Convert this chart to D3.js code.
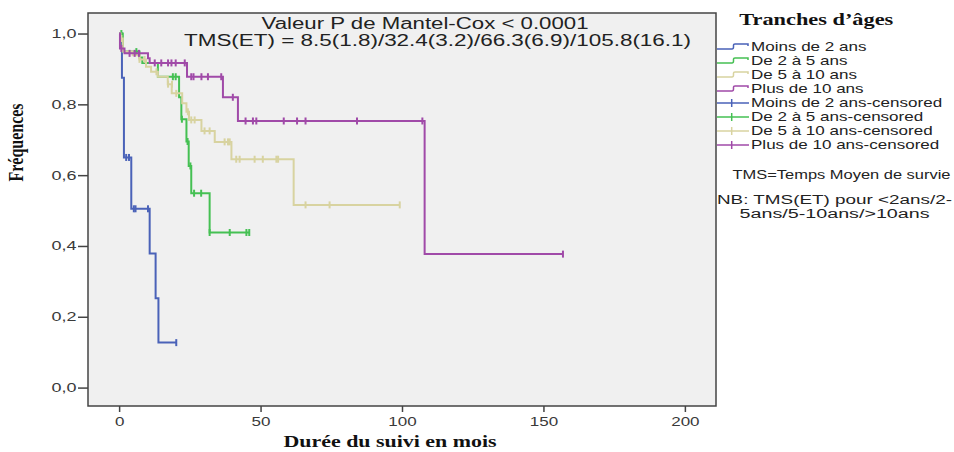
<!DOCTYPE html>
<html>
<head>
<meta charset="utf-8">
<script src="https://cdn.jsdelivr.net/npm/d3@7"></script>
<style>
  html, body { margin: 0; padding: 0; background: #ffffff; }
  svg { display: block; }
</style>
</head>
<body>
<svg id="chart" width="954" height="452"></svg>
<script>
// ---------- DATA ----------
const groupNames = ["Moins de 2 ans", "De 2 à 5 ans", "De 5 à 10 ans", "Plus de 10 ans"];
const groupColors = ["#4a62b8", "#45c053", "#d8d3a0", "#a04aa8"];
const xTickValues = [0, 50, 100, 150, 200];
const yTickValues = [0, 0.2, 0.4, 0.6, 0.8, 1.0];

// steps: [time, survival after that time]; end: last follow-up time
const lt2Steps = [[0,1],[1.0,0.875],[1.7,0.65],[4.3,0.505],[10.8,0.379],[12.9,0.252],[13.9,0.127]];
const lt2End = 20.2;
const lt2Censored = [[2.5,0.65],[3.5,0.65],[5.2,0.505],[5.8,0.505],[10.2,0.505],[20.2,0.127]];

const g2to5Steps = [[0,1],[1.3,0.949],[7.2,0.932],[8.2,0.917],[13.7,0.878],[21.2,0.82],[22.0,0.758],[23.8,0.695],[24.6,0.626],[25.5,0.549],[32.0,0.438]];
const g2to5End = 46.0;
const g2to5Censored = [[0.8,1.0],[6.1,0.949],[19.0,0.878],[20.0,0.878],[22.2,0.758],[24.2,0.695],[25.2,0.626],[26.5,0.549],[29.0,0.549],[32.0,0.438],[39.1,0.438],[45.0,0.438],[46.0,0.438]];

const g5to10Steps = [[0,1],[0.5,0.986],[1.3,0.949],[4.8,0.939],[7.2,0.927],[9.5,0.906],[11.3,0.892],[13.7,0.878],[17.2,0.857],[18.6,0.831],[22.3,0.803],[23.8,0.779],[24.7,0.756],[29.1,0.725],[33.8,0.694],[39.7,0.645],[61.7,0.516]];
const g5to10End = 99.2;
const g5to10Censored = [[0.8,0.986],[7.2,0.927],[9.0,0.927],[13.2,0.892],[17.3,0.857],[18.7,0.857],[20.2,0.831],[24.3,0.779],[25.5,0.756],[26.7,0.756],[30.2,0.725],[32.0,0.725],[37.3,0.694],[38.5,0.694],[39.1,0.694],[41.4,0.645],[42.6,0.645],[47.9,0.645],[50.8,0.645],[55.6,0.645],[56.2,0.645],[65.9,0.516],[74.4,0.516],[99.2,0.516]];

const gt10Steps = [[0,1],[0.3,0.958],[1.9,0.944],[10.2,0.93],[10.8,0.917],[24.0,0.878],[36.7,0.82],[42.0,0.753],[108.0,0.377]];
const gt10End = 156.9;
const gt10Censored = [[0.8,0.958],[3.7,0.944],[5.5,0.944],[7.0,0.944],[12.6,0.917],[14.9,0.917],[17.3,0.917],[18.5,0.917],[20.0,0.917],[23.2,0.917],[25.5,0.878],[26.3,0.878],[29.1,0.878],[31.4,0.878],[36.1,0.878],[40.2,0.82],[44.7,0.753],[47.3,0.753],[48.5,0.753],[58.2,0.753],[62.9,0.753],[65.9,0.753],[84.1,0.753],[107.2,0.753],[156.9,0.377]];

const legendLabels = ["Moins de 2 ans","De 2 à 5 ans","De 5 à 10 ans","Plus de 10 ans",
  "Moins de 2 ans-censored","De 2 à 5 ans-censored","De 5 à 10 ans-censored","Plus de 10 ans-censored"];

const series = [
  {steps: lt2Steps, end: lt2End, cens: lt2Censored},
  {steps: g2to5Steps, end: g2to5End, cens: g2to5Censored},
  {steps: g5to10Steps, end: g5to10End, cens: g5to10Censored},
  {steps: gt10Steps, end: gt10End, cens: gt10Censored}
];

// ---------- LAYOUT ----------
const svg = d3.select("#chart");
const plot = {left: 88, right: 716, top: 13, bottom: 406};

const x = d3.scaleLinear().domain([-11, 211]).range([plot.left, plot.right]);
const y = d3.scaleLinear().domain([-0.052, 1.058]).range([plot.bottom, plot.top]);

svg.append("rect").attr("x", 0).attr("y", 0).attr("width", 954).attr("height", 452).attr("fill", "#ffffff");
svg.append("rect")
  .attr("x", plot.left).attr("y", plot.top)
  .attr("width", plot.right - plot.left).attr("height", plot.bottom - plot.top)
  .attr("fill", "#f0f0f0");

// axes
const yAxis = d3.axisLeft(y).tickValues(yTickValues).tickSize(10).tickPadding(2)
  .tickFormat(d => d3.format(".1f")(d).replace(".", ","));
const gy = svg.append("g").attr("transform", `translate(${plot.left},0)`).call(yAxis);
gy.select(".domain").remove();
gy.selectAll(".tick line").attr("stroke", "#444").attr("stroke-width", 1.5);
gy.selectAll(".tick text")
  .attr("x", 0).attr("fill", "#3a3a3a")
  .style("font-family", "'Liberation Sans', Arial, sans-serif").style("font-size", "12px")
  .attr("transform", "translate(-11.5,0) scale(1.5,1)");

const xAxis = d3.axisBottom(x).tickValues(xTickValues).tickSize(6).tickPadding(5);
const gx = svg.append("g").attr("transform", `translate(0,${plot.bottom})`).call(xAxis);
gx.select(".domain").remove();
gx.selectAll(".tick line").attr("stroke", "#444").attr("stroke-width", 1.5);
gx.selectAll(".tick text")
  .attr("y", 0).attr("fill", "#3a3a3a")
  .style("font-family", "'Liberation Sans', Arial, sans-serif").style("font-size", "12px")
  .attr("transform", "translate(0,11) scale(1.42,1)");

// frame
svg.append("rect")
  .attr("x", plot.left).attr("y", plot.top)
  .attr("width", plot.right - plot.left).attr("height", plot.bottom - plot.top)
  .attr("fill", "none").attr("stroke", "#444").attr("stroke-width", 1.5);

// curves
const line = d3.line().x(d => x(d[0])).y(d => y(d[1])).curve(d3.curveStepAfter);
series.forEach((s, i) => {
  const pts = s.steps.concat([[s.end, s.steps[s.steps.length - 1][1]]]);
  svg.append("path").datum(pts)
    .attr("d", line).attr("fill", "none")
    .attr("stroke", groupColors[i]).attr("stroke-width", 2);
  svg.append("g").selectAll("line").data(s.cens).join("line")
    .attr("x1", d => x(d[0])).attr("x2", d => x(d[0]))
    .attr("y1", d => y(d[1]) - 3.5).attr("y2", d => y(d[1]) + 3.5)
    .attr("stroke", groupColors[i]).attr("stroke-width", 2);
});

// annotation in plot
function stretchedText(txt, cx, by, size, width, family, weight, fill) {
  return svg.append("text").text(txt)
    .attr("x", cx).attr("y", by).attr("text-anchor", "middle")
    .attr("textLength", width).attr("lengthAdjust", "spacingAndGlyphs")
    .style("font-family", family).style("font-size", size + "px")
    .style("font-weight", weight).attr("fill", fill);
}
const sans = "'Liberation Sans', Arial, sans-serif";
const serif = "'Liberation Serif', 'Times New Roman', serif";
stretchedText("Valeur P de Mantel-Cox < 0.0001", 425, 28.5, 16, 327, sans, "normal", "#222");
stretchedText("TMS(ET) = 8.5(1.8)/32.4(3.2)/66.3(6.9)/105.8(16.1)", 437.5, 45.5, 16, 507, sans, "normal", "#222");

// axis titles
stretchedText("Durée du suivi en mois", 390, 447, 16, 213, serif, "bold", "#111");
svg.append("text").text("Fréquences")
  .attr("text-anchor", "middle")
  .attr("transform", "translate(23,142.5) rotate(-90) scale(1,1.35)")
  .style("font-family", serif).style("font-size", "16px").style("font-weight", "bold").attr("fill", "#111");

// legend
stretchedText("Tranches d’âges", 816.3, 25, 16, 154, serif, "bold", "#111");
const legendY = d3.range(8).map(i => 47 + 14 * i);
legendLabels.forEach((lab, i) => {
  const yy = legendY[i];
  const col = groupColors[i % 4];
  if (i < 4) {
    svg.append("path")
      .attr("d", `M717,${yy + 2} H732 Q733.5,${yy + 2} 733.5,${yy} V${yy - 2} Q733.5,${yy - 3} 735,${yy - 3} H748 V${yy - 1}`)
      .attr("fill", "none").attr("stroke", col).attr("stroke-width", 1.5);
  } else {
    svg.append("line").attr("x1", 717).attr("x2", 749).attr("y1", yy).attr("y2", yy)
      .attr("stroke", col).attr("stroke-width", 1.5);
    svg.append("line").attr("x1", 731.7).attr("x2", 731.7).attr("y1", yy - 4).attr("y2", yy + 4)
      .attr("stroke", col).attr("stroke-width", 1.5);
  }
  svg.append("text").text(lab)
    .attr("transform", `translate(751,${yy + 4}) scale(1.42,1)`)
    .style("font-family", sans).style("font-size", "12px").attr("fill", "#222");
});

stretchedText("TMS=Temps Moyen de survie", 841.5, 179, 12, 218, sans, "normal", "#222");
stretchedText("NB: TMS(ET) pour <2ans/2-", 834.5, 203.5, 12, 235, sans, "normal", "#222");
stretchedText("5ans/5-10ans/>10ans", 834.6, 217.5, 12, 190, sans, "normal", "#222");
</script>
</body>
</html>
